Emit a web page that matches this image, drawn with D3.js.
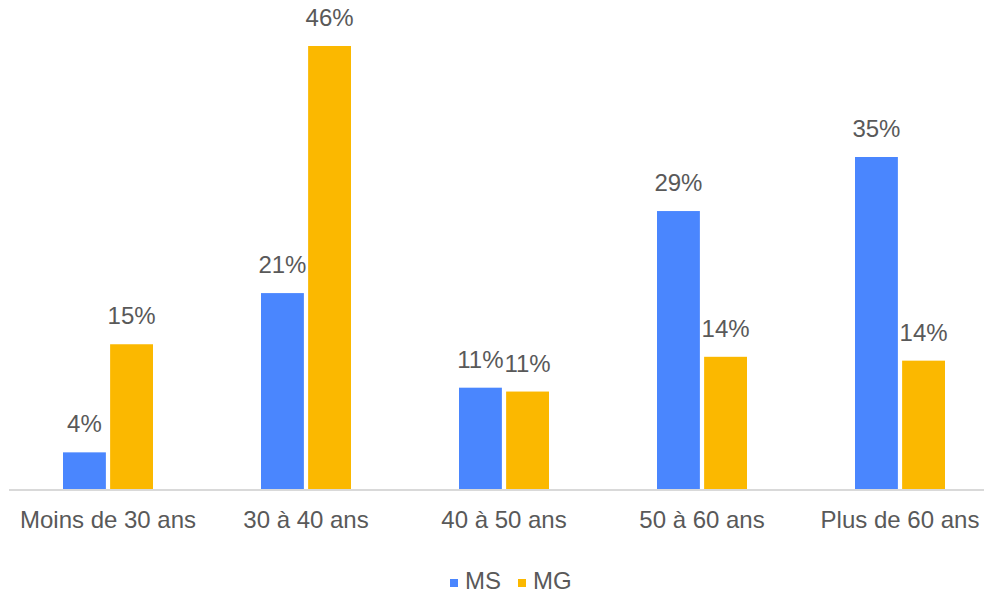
<!DOCTYPE html>
<html>
<head>
<meta charset="utf-8">
<script src="https://cdn.jsdelivr.net/npm/d3@7"></script>
<style>
  html, body { margin: 0; padding: 0; background: #fff; }
  svg { display: block; font-family: "Liberation Sans", Arial, sans-serif; }
</style>
</head>
<body>
<svg id="chart" width="984" height="593"></svg>
<script>
const categories = ["Moins de 30 ans", "30 à 40 ans", "40 à 50 ans", "50 à 60 ans", "Plus de 60 ans"];
const seriesNames = ["MS", "MG"];
const msValues = [3.9, 20.4, 10.6, 28.9, 34.5];
const mgValues = [15.1, 46.0, 10.2, 13.8, 13.4];
const msLabels = ["4%", "21%", "11%", "29%", "35%"];
const mgLabels = ["15%", "46%", "11%", "14%", "14%"];
const colors = ["#4a86fe", "#fbb800"];

const svg = d3.select("#chart");
const W = 984, H = 593;
const baseY = 490;

const x0 = d3.scaleBand().domain(categories).range([9, 999]).padding(0);
const x1 = d3.scaleBand().domain(seriesNames).range([54, 144]).paddingInner(0.09).paddingOuter(0);
const y = d3.scaleLinear().domain([0, 46]).range([baseY, 46]);
const color = d3.scaleOrdinal().domain(seriesNames).range(colors);

const rows = categories.map((c, i) => ({
  cat: c,
  vals: [
    { s: "MS", v: msValues[i], label: msLabels[i] },
    { s: "MG", v: mgValues[i], label: mgLabels[i] }
  ]
}));

const groups = svg.append("g").selectAll("g").data(rows).join("g")
  .attr("transform", d => `translate(${x0(d.cat)},0)`);

groups.selectAll("rect").data(d => d.vals).join("rect")
  .attr("x", d => x1(d.s))
  .attr("width", x1.bandwidth())
  .attr("y", d => y(d.v))
  .attr("height", d => baseY - y(d.v))
  .attr("fill", d => color(d.s));

groups.selectAll("text.lbl").data(d => d.vals).join("text")
  .attr("class", "lbl")
  .attr("x", d => x1(d.s) + x1.bandwidth() / 2)
  .attr("y", d => y(d.v) - 20)
  .attr("text-anchor", "middle")
  .attr("font-size", 24)
  .attr("fill", "#595959")
  .text(d => d.label);

// x axis
const xAxis = d3.axisBottom(x0).tickSize(0).tickPadding(21);
const axG = svg.append("g").attr("transform", `translate(0,${baseY})`).call(xAxis);
axG.select(".domain").attr("stroke", "#d9d9d9").attr("stroke-width", 2)
  .attr("d", `M9,0H${W}`);
axG.selectAll("text")
  .attr("font-size", 24)
  .attr("font-family", '"Liberation Sans", Arial, sans-serif')
  .attr("fill", "#595959");

// legend
const legendItems = [
  { s: "MS", sx: 450, tx: 465 },
  { s: "MG", sx: 518, tx: 533 }
];
const lg = svg.append("g");
lg.selectAll("rect").data(legendItems).join("rect")
  .attr("x", d => d.sx).attr("y", 579).attr("width", 8).attr("height", 8)
  .attr("fill", d => color(d.s));
lg.selectAll("text").data(legendItems).join("text")
  .attr("x", d => d.tx).attr("y", 589)
  .attr("font-size", 24)
  .attr("fill", "#595959")
  .text(d => d.s);
</script>
</body>
</html>
